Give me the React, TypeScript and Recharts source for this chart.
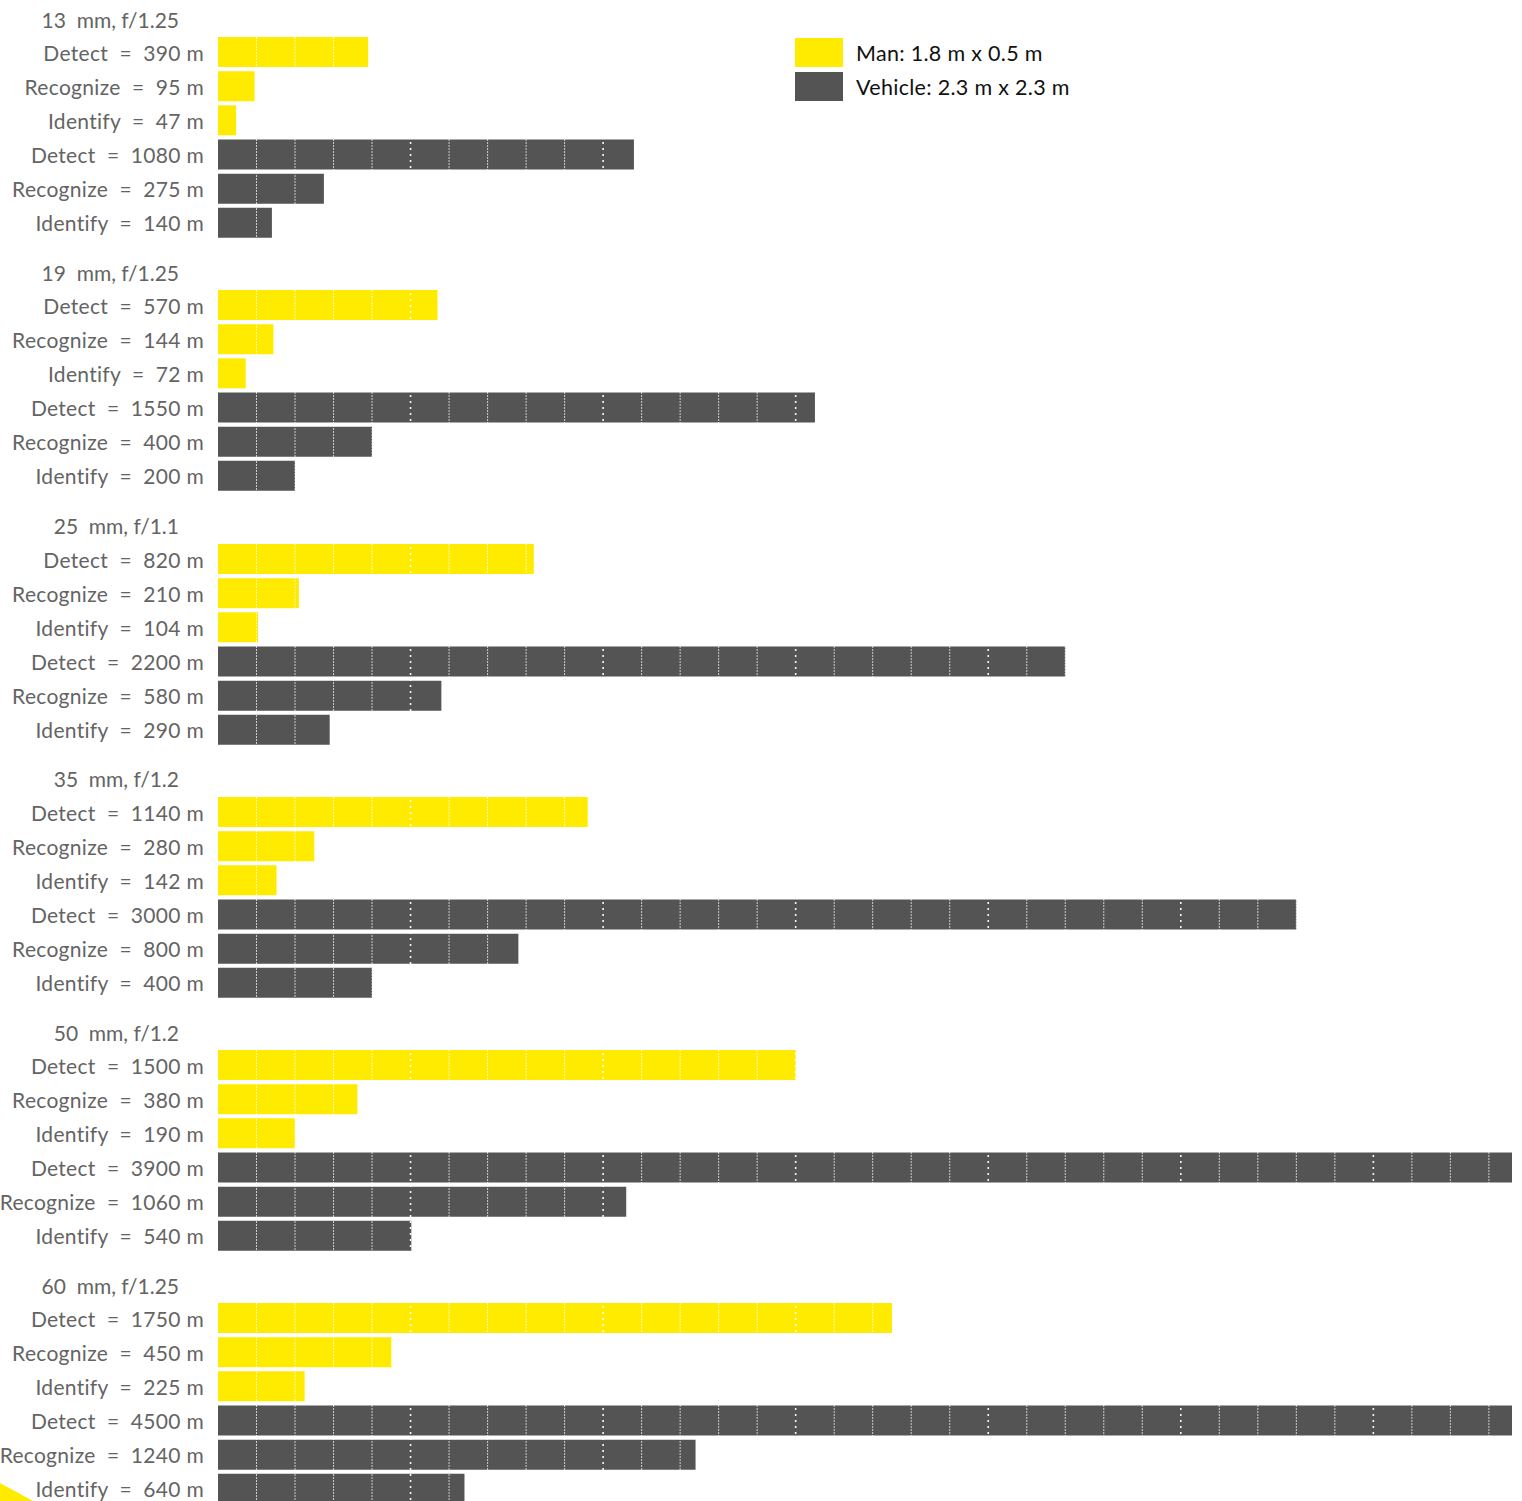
import { BarChart, Bar, XAxis, YAxis, Cell, ReferenceLine } from "recharts";

// lens configurations, one group of six bars each
const lenses = ["13  mm, f/1.25", "19  mm, f/1.25", "25  mm, f/1.1", "35  mm, f/1.2", "50  mm, f/1.2", "60  mm, f/1.25"];
const tasks = ["Detect", "Recognize", "Identify"];

// distances as printed in the labels (m)
const manStated = [
  [390, 95, 47],
  [570, 144, 72],
  [820, 210, 104],
  [1140, 280, 142],
  [1500, 380, 190],
  [1750, 450, 225],
];
const vehicleStated = [
  [1080, 275, 140],
  [1550, 400, 200],
  [2200, 580, 290],
  [3000, 800, 400],
  [3900, 1060, 540],
  [4500, 1240, 640],
];

// bar lengths as drawn in the picture (m)
const manBar = [
  [390, 95, 47],
  [570, 144, 72],
  [820, 210, 104],
  [960, 250, 152],
  [1500, 362, 200],
  [1750, 450, 225],
];
const vehicleBar = [
  [1080, 275, 140],
  [1550, 400, 200],
  [2200, 580, 290],
  [2800, 780, 400],
  [3900, 1060, 502],
  [4500, 1240, 640],
];

const legendLabels = ["Man: 1.8 m x 0.5 m", "Vehicle: 2.3 m x 2.3 m"];

const YELLOW = "#ffeb00";
const GRAY = "#545454";
const TEXT = "#646464";
const FONT = "Lato, 'Open Sans', sans-serif";

const GROUP_H = 253.3;
const ROW_H = 34.2;
const X_MAX = 3360;
const gridMeters = Array.from({ length: 33 }, (_, i) => (i + 1) * 100);

function groupRows(g: number) {
  const man = tasks.map((t, i) => ({
    id: `m${i}`,
    label: `${t}  =  ${manStated[g][i]} m`,
    len: manBar[g][i],
    kind: "man",
  }));
  const veh = tasks.map((t, i) => ({
    id: `v${i}`,
    label: `${t}  =  ${vehicleStated[g][i]} m`,
    len: vehicleBar[g][i],
    kind: "vehicle",
  }));
  return [...man, ...veh];
}

function GroupChart({ g }: { g: number }) {
  const rows = groupRows(g);
  const top = g * GROUP_H + 52 - ROW_H / 2;
  return (
    <div style={{ position: "absolute", left: 0, top }}>
      <BarChart
        layout="vertical"
        width={1522}
        height={Math.round(ROW_H * 6)}
        data={rows}
        margin={{ top: 0, right: 10, bottom: 0, left: 0 }}
      >
        <XAxis type="number" dataKey="len" domain={[0, X_MAX]} allowDataOverflow hide />
        <YAxis
          type="category"
          dataKey="id"
          width={218}
          axisLine={false}
          tickLine={false}
          interval={0}
          tick={(p: any) => {
            const row = rows.find((r) => r.id === p.payload.value);
            return (
              <text
                x={204}
                y={p.y}
                textAnchor="end"
                dominantBaseline="central"
                fill={TEXT}
                fontSize={21}
                fontFamily={FONT}
                letterSpacing={0.3}
                style={{ whiteSpace: "pre" }}
              >
                {row ? row.label : ""}
              </text>
            );
          }}
        />
        <Bar dataKey="len" barSize={30} isAnimationActive={false}>
          {rows.map((r) => (
            <Cell key={r.id} fill={r.kind === "man" ? YELLOW : GRAY} />
          ))}
        </Bar>
        {gridMeters.map((m) => (
          <ReferenceLine
            key={m}
            x={m}
            stroke="#ffffff"
            strokeWidth={m % 500 === 0 ? 1.6 : 1}
            strokeOpacity={m % 500 === 0 ? 0.95 : 0.7}
            strokeDasharray={m % 500 === 0 ? "2 4" : "2 1"}
          />
        ))}
      </BarChart>
    </div>
  );
}

export default function App() {
  return (
    <div
      style={{
        position: "absolute",
        left: 0,
        top: 0,
        width: 1522,
        height: 1501,
        overflow: "hidden",
        background: "#ffffff",
        fontFamily: FONT,
      }}
    >
      {lenses.map((_, g) => (
        <GroupChart key={g} g={g} />
      ))}
      <svg
        width={1522}
        height={1501}
        style={{ position: "absolute", left: 0, top: 0, pointerEvents: "none" }}
      >
        {lenses.map((lens, g) => (
          <text
            key={lens}
            x={179}
            y={g * GROUP_H + 19}
            textAnchor="end"
            dominantBaseline="central"
            fill={TEXT}
            fontSize={21}
            fontFamily={FONT}
            style={{ whiteSpace: "pre" }}
          >
            {lens}
          </text>
        ))}
        {legendLabels.map((l, i) => (
          <g key={l}>
            <rect x={795} y={38 + i * 34} width={48} height={29} fill={i === 0 ? YELLOW : GRAY} />
            <text
              x={856}
              y={53 + i * 34}
              dominantBaseline="central"
              fill="#111111"
              fontSize={21.5}
              fontFamily={FONT}
              letterSpacing={0.3}
            >
              {l}
            </text>
          </g>
        ))}
        <polygon points="0,1483 33,1501 0,1501" fill={YELLOW} />
      </svg>
    </div>
  );
}
